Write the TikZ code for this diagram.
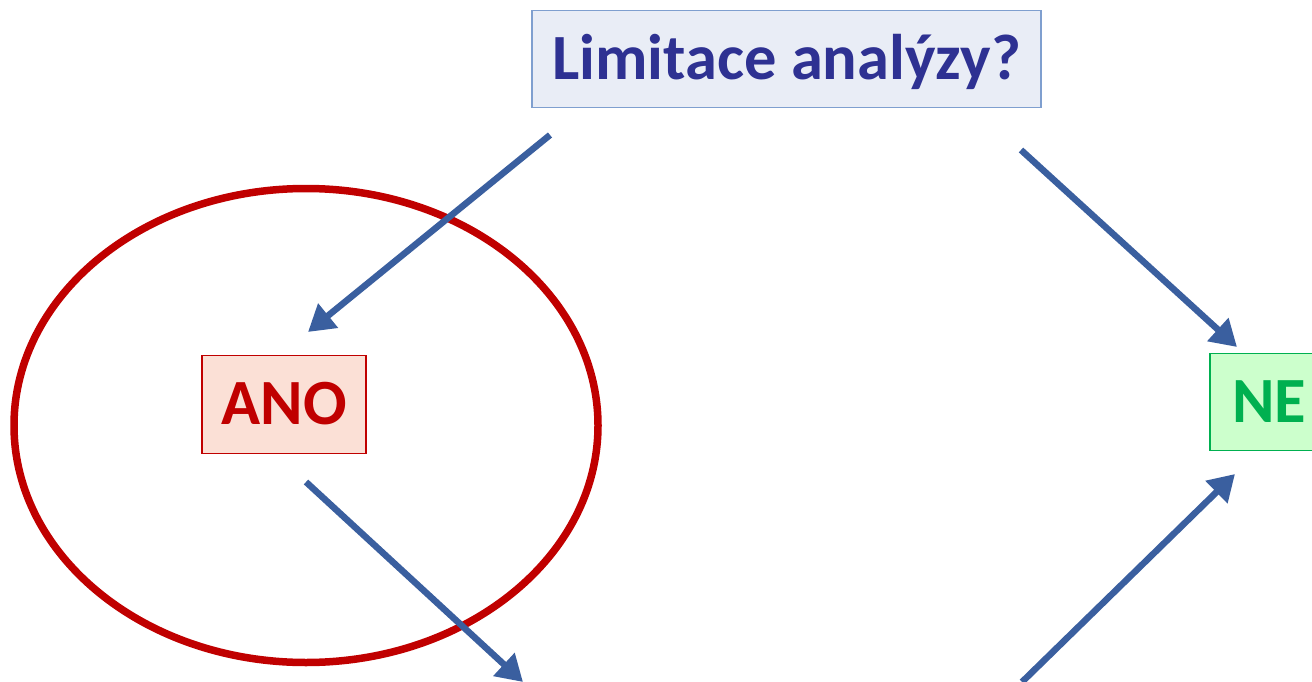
\documentclass[tikz,border=0pt]{standalone}
\usepackage{fontspec}
\setmainfont{Carlito}
\usetikzlibrary{arrows.meta,shapes.geometric}
\definecolor{titlefill}{HTML}{E9EDF6}
\definecolor{titledraw}{HTML}{7F9FCF}
\definecolor{titletext}{HTML}{2E3192}
\definecolor{anofill}{HTML}{FBE0D6}
\definecolor{anored}{HTML}{C00000}
\definecolor{nefill}{HTML}{CCFFCC}
\definecolor{negreen}{HTML}{00B050}
\definecolor{arrowblue}{HTML}{3A5F9F}
\tikzset{
  box/.style={draw, line width=1.5pt, inner sep=0pt, font=\bfseries\fontsize{64.5}{70}\selectfont, text height=40.6pt, text depth=0pt},
  arr/.style={draw=arrowblue, line width=6.5pt, -{Triangle[length=26pt,width=30pt]}}
}
\begin{document}
\begin{tikzpicture}[x=1pt,y=-1pt]
\useasboundingbox (0,0) rectangle (1312,682);
\clip (0,0) rectangle (1312,682);
\node[box, fill=titlefill, draw=titledraw, text=titletext, minimum width=509pt, minimum height=97pt] (title) at (786.5,59) {Limitace analýzy?};
\node[box, fill=anofill, draw=anored, text=anored, minimum width=164pt, minimum height=98pt] (ano) at (284,404.5) {ANO};
\node[box, fill=nefill, draw=negreen, text=negreen, minimum width=150pt, minimum height=97pt, text width=106pt, align=left] (ne) at (1285,402) {NE};
\node[draw=anored, line width=7.5pt, ellipse, minimum width=584pt, minimum height=474pt, inner sep=0pt] (oval) at (306,425.5) {};
\coordinate (a1s) at (550,135);
\coordinate (a1e) at (308,332);
\coordinate (a2s) at (1021,150);
\coordinate (a2e) at (1237,347);
\coordinate (a3s) at (306,482);
\coordinate (a3e) at (523,682);
\coordinate (a4s) at (1022,682);
\coordinate (a4e) at (1235,474);
\draw[arr] (a1s) -- (a1e);
\draw[arr] (a2s) -- (a2e);
\draw[arr] (a3s) -- (a3e);
\draw[arr] (a4s) -- (a4e);
\end{tikzpicture}
\end{document}
